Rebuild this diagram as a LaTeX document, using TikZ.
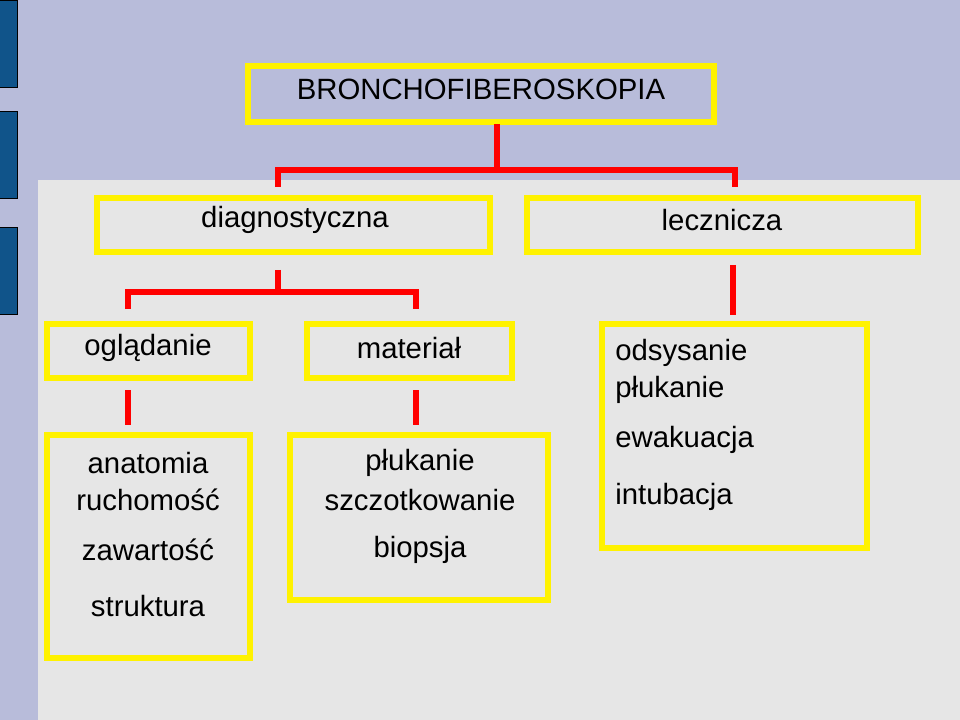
\documentclass[tikz,border=0pt]{standalone}
\usepackage{fontspec}
\setmainfont{Liberation Sans}
\begin{document}
\begin{tikzpicture}[x=0.75pt,y=-0.75pt,
  box/.style={draw=yellow,line width=4pt},
  con/.style={draw=red,line width=5pt},
  txt/.style={inner sep=0pt,font=\fontsize{22}{26}\selectfont},
  bar/.style={fill=blue!30!black!60!cyan!60!blue,draw=black,line width=0.5pt}]
\useasboundingbox (0,0) rectangle (960,720);
\fill[fill={rgb,255:red,184;green,188;blue,218}] (0,0) rectangle (960,720);
\fill[fill={rgb,255:red,230;green,230;blue,230}] (38,180) rectangle (960,720);
\foreach \a/\b in {0/87,111/198,227/314}
  \filldraw[fill={rgb,255:red,16;green,84;blue,138},draw=black,line width=0.4pt] (-1,\a) rectangle (17,\b);
% boxes
\draw[box] (248,66) rectangle (714,122);
\node[txt] (title) at (481,89) {BRONCHOFIBEROSKOPIA};
\draw[box] (97,198) rectangle (490,252);
\node[txt] (diag) at (295,220) {diagnostyczna};
\draw[box] (527,198) rectangle (918,252);
\node[txt] (lecz) at (722,220) {lecznicza};
\draw[box] (47,324) rectangle (250,378);
\node[txt] (ogl) at (148,348) {oglądanie};
\draw[box] (307,324) rectangle (512,378);
\node[txt] (mat) at (409,348) {materiał};
\draw[box] (47,435) rectangle (250,658);
\node[txt] (t1) at (148,463) {anatomia};
\node[txt] (t2) at (148,500) {ruchomość};
\node[txt] (t3) at (148,550) {zawartość};
\node[txt] (t4) at (148,606) {struktura};
\draw[box] (290,435) rectangle (548,600);
\node[txt] (m1) at (420,463) {płukanie};
\node[txt] (m2) at (420,500) {szczotkowanie};
\node[txt] (m3) at (420,550) {biopsja};
\draw[box] (602,324) rectangle (867,548);
\node[txt,anchor=west] (l1) at (615,353) {odsysanie};
\node[txt,anchor=west] (l2) at (615,390) {płukanie};
\node[txt,anchor=west] (l3) at (615,440) {ewakuacja};
\node[txt,anchor=west] (l4) at (615,497) {intubacja};
% connectors
\coordinate (a1) at (497,124);
\coordinate (a2) at (497,170);
\draw[con] (a1) -- (a2);
\draw[con] (278,187) -- (278,170) -- (735,170) -- (735,187);
\draw[con] (278,270) -- (278,292);
\draw[con] (128,309) -- (128,292) -- (416,292) -- (416,309);
\draw[con] (128,390) -- (128,425);
\draw[con] (416,390) -- (416,425);
\draw[con] (733,265) -- (733,315);
\end{tikzpicture}
\end{document}
